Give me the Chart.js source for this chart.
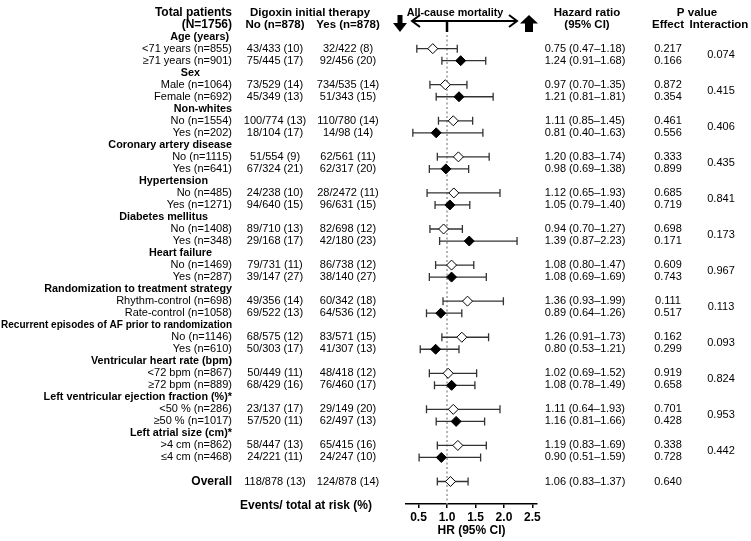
<!DOCTYPE html>
<html>
<head>
<meta charset="utf-8">
<script src="https://cdn.jsdelivr.net/npm/chart.js@4.4.1/dist/chart.umd.min.js"></script>
<style>
  body { margin: 0; background: #fff; }
  #wrap { width: 751px; height: 541px; }
</style>
</head>
<body>
<div id="wrap"><canvas id="forest" width="751" height="541"></canvas></div>
<script>
const groups = ['Age (years)', 'Sex', 'Non-whites', 'Coronary artery disease', 'Hypertension',
  'Diabetes mellitus', 'Heart failure', 'Randomization to treatment strategy',
  'Recurrent episodes of AF prior to randomization', 'Ventricular heart rate (bpm)',
  'Left ventricular ejection fraction (%)*', 'Left atrial size (cm)*'];
const subgroups = ['<71 years (n=855)', '≥71 years (n=901)', 'Male (n=1064)', 'Female (n=692)',
  'No (n=1554)', 'Yes (n=202)', 'No (n=1115)', 'Yes (n=641)', 'No (n=485)', 'Yes (n=1271)',
  'No (n=1408)', 'Yes (n=348)', 'No (n=1469)', 'Yes (n=287)', 'Rhythm-control (n=698)',
  'Rate-control (n=1058)', 'No (n=1146)', 'Yes (n=610)', '<72 bpm (n=867)', '≥72 bpm (n=889)',
  '<50 % (n=286)', '≥50 % (n=1017)', '>4 cm (n=862)', '≤4 cm (n=468)', 'Overall'];
const noEvents = ['43/433 (10)', '75/445 (17)', '73/529 (14)', '45/349 (13)', '100/774 (13)',
  '18/104 (17)', '51/554 (9)', '67/324 (21)', '24/238 (10)', '94/640 (15)', '89/710 (13)',
  '29/168 (17)', '79/731 (11)', '39/147 (27)', '49/356 (14)', '69/522 (13)', '68/575 (12)',
  '50/303 (17)', '50/449 (11)', '68/429 (16)', '23/137 (17)', '57/520 (11)', '58/447 (13)',
  '24/221 (11)', '118/878 (13)'];
const yesEvents = ['32/422 (8)', '92/456 (20)', '734/535 (14)', '51/343 (15)', '110/780 (14)',
  '14/98 (14)', '62/561 (11)', '62/317 (20)', '28/2472 (11)', '96/631 (15)', '82/698 (12)',
  '42/180 (23)', '86/738 (12)', '38/140 (27)', '60/342 (18)', '64/536 (12)', '83/571 (15)',
  '41/307 (13)', '48/418 (12)', '76/460 (17)', '29/149 (20)', '62/497 (13)', '65/415 (16)',
  '24/247 (10)', '124/878 (14)'];
const hr = [0.75, 1.24, 0.97, 1.21, 1.11, 0.81, 1.20, 0.98, 1.12, 1.05, 0.94, 1.39,
  1.08, 1.08, 1.36, 0.89, 1.26, 0.80, 1.02, 1.08, 1.11, 1.16, 1.19, 0.90, 1.06];
const hrLow = [0.47, 0.91, 0.70, 0.81, 0.85, 0.40, 0.83, 0.69, 0.65, 0.79, 0.70, 0.87,
  0.80, 0.69, 0.93, 0.64, 0.91, 0.53, 0.69, 0.78, 0.64, 0.81, 0.83, 0.51, 0.83];
const hrHigh = [1.18, 1.68, 1.35, 1.81, 1.45, 1.63, 1.74, 1.38, 1.93, 1.40, 1.27, 2.23,
  1.47, 1.69, 1.99, 1.26, 1.73, 1.21, 1.52, 1.49, 1.93, 1.66, 1.69, 1.59, 1.37];
const pEffect = ['0.217', '0.166', '0.872', '0.354', '0.461', '0.556', '0.333', '0.899',
  '0.685', '0.719', '0.698', '0.171', '0.609', '0.743', '0.111', '0.517', '0.162', '0.299',
  '0.919', '0.658', '0.701', '0.428', '0.338', '0.728', '0.640'];
const pInteraction = ['0.074', '0.415', '0.406', '0.435', '0.841', '0.173', '0.967', '0.113',
  '0.093', '0.824', '0.953', '0.442'];
const hrTicks = [0.5, 1.0, 1.5, 2.0, 2.5];

const FONT = '"Liberation Sans", Arial, sans-serif';
// right edge of each group title (they are not all flush with the subgroup labels)
const titleRight = [229, 200, 232, 232, 208, 208, 212, 232, 232, 232, 232, 232];

// row index on the y scale: group title, then its two subgroups; overall after a blank row
function rowOf(k) {
  if (k === subgroups.length - 1) return 37;
  return 3 * Math.floor(k / 2) + 1 + (k % 2);
}

const openPts = [], filledPts = [];
subgroups.forEach((s, k) => {
  const p = { x: hr[k], y: rowOf(k) };
  if (k % 2 === 1 && k < subgroups.length - 1) filledPts.push(p); else openPts.push(p);
});

const forestPlugin = {
  id: 'forest',
  beforeDatasetsDraw(chart) {
    const ctx = chart.ctx, xs = chart.scales.x, ys = chart.scales.y;
    const x1 = xs.getPixelForValue(1);
    ctx.save();
    // reference line at HR = 1
    ctx.strokeStyle = '#999';
    ctx.lineWidth = 1.5;
    ctx.setLineDash([2, 2.5]);
    ctx.beginPath();
    ctx.moveTo(x1, 35);
    ctx.lineTo(x1, chart.chartArea.bottom);
    ctx.stroke();
    ctx.setLineDash([]);
    // confidence intervals
    ctx.strokeStyle = '#333';
    ctx.lineWidth = 1.3;
    subgroups.forEach((s, k) => {
      const y = ys.getPixelForValue(rowOf(k));
      const a = xs.getPixelForValue(hrLow[k]), b = xs.getPixelForValue(hrHigh[k]);
      ctx.beginPath();
      ctx.moveTo(a, y); ctx.lineTo(b, y);
      ctx.moveTo(a, y - 4); ctx.lineTo(a, y + 4);
      ctx.moveTo(b, y - 4); ctx.lineTo(b, y + 4);
      ctx.stroke();
    });
    ctx.restore();
  },
  afterDraw(chart) {
    const ctx = chart.ctx, xs = chart.scales.x, ys = chart.scales.y;
    const x1 = xs.getPixelForValue(1);
    ctx.save();
    ctx.fillStyle = '#000';
    ctx.textBaseline = 'middle';
    const text = (t, x, y, align, font, maxW) => {
      ctx.font = font; ctx.textAlign = align;
      if (maxW) ctx.fillText(t, x, y, maxW); else ctx.fillText(t, x, y);
    };
    const bold12 = 'bold 12px ' + FONT, boldHd = 'bold 11.5px ' + FONT;
    const boldGrp = 'bold 10.8px ' + FONT, reg = '11px ' + FONT;
    const yh1 = ys.getPixelForValue(-2), yh2 = ys.getPixelForValue(-1);

    // column headers
    text('Total patients', 232, yh1, 'right', bold12);
    text('(N=1756)', 232, yh2, 'right', bold12);
    text('Digoxin initial therapy', 310, yh1, 'center', boldHd);
    text('No (n=878)', 275, yh2, 'center', boldHd);
    text('Yes (n=878)', 348, yh2, 'center', boldHd);
    text('All-cause mortality', 455, yh1, 'center', 'bold 10.8px ' + FONT);
    text('Hazard ratio', 587, yh1, 'center', boldHd);
    text('(95% CI)', 587, yh2, 'center', boldHd);
    text('P value', 697, yh1, 'center', boldHd);
    text('Effect', 668, yh2, 'center', boldHd);
    text('Interaction', 719, yh2, 'center', boldHd);

    // group titles and interaction p values
    groups.forEach((g, i) => {
      text(g, titleRight[i], ys.getPixelForValue(3 * i), 'right', boldGrp, 231);
      text(pInteraction[i], 721, ys.getPixelForValue(3 * i + 1.5), 'center', reg);
    });

    // subgroup rows
    subgroups.forEach((s, k) => {
      const y = ys.getPixelForValue(rowOf(k));
      const last = k === subgroups.length - 1;
      text(s, 232, y, 'right', last ? bold12 : reg);
      text(noEvents[k], 275, y, 'center', reg);
      text(yesEvents[k], 348, y, 'center', reg);
      text(hr[k].toFixed(2) + ' (' + hrLow[k].toFixed(2) + '–' + hrHigh[k].toFixed(2) + ')', 585, y, 'center', reg);
      text(pEffect[k], 668, y, 'center', reg);
    });
    text('Events/ total at risk (%)', 306, ys.getPixelForValue(39), 'center', bold12);

    // direction arrows above the plot
    ctx.strokeStyle = '#000';
    ctx.lineWidth = 2;
    ctx.beginPath();
    ctx.moveTo(412, 21); ctx.lineTo(517, 21);
    ctx.moveTo(420, 15); ctx.lineTo(412, 21); ctx.lineTo(420, 27);
    ctx.moveTo(509, 15); ctx.lineTo(517, 21); ctx.lineTo(509, 27);
    ctx.stroke();
    ctx.lineWidth = 2.5;
    ctx.beginPath();
    ctx.moveTo(x1, 21); ctx.lineTo(x1, 32);
    ctx.stroke();
    // block arrows
    ctx.beginPath();
    ctx.moveTo(397.5, 15); ctx.lineTo(402.5, 15); ctx.lineTo(402.5, 23); ctx.lineTo(407, 23);
    ctx.lineTo(400, 32); ctx.lineTo(393, 23); ctx.lineTo(397.5, 23); ctx.closePath();
    ctx.moveTo(529, 15); ctx.lineTo(538, 23.5); ctx.lineTo(533, 23.5); ctx.lineTo(533, 32);
    ctx.lineTo(525, 32); ctx.lineTo(525, 23.5); ctx.lineTo(520, 23.5); ctx.closePath();
    ctx.fill();
    ctx.restore();
  }
};

new Chart(document.getElementById('forest'), {
  type: 'scatter',
  data: {
    datasets: [
      { label: 'open', data: openPts, pointStyle: 'rectRot', pointRadius: 5,
        backgroundColor: '#fff', borderColor: '#000', borderWidth: 1 },
      { label: 'filled', data: filledPts, pointStyle: 'rectRot', pointRadius: 5,
        backgroundColor: '#000', borderColor: '#000', borderWidth: 1 }
    ]
  },
  options: {
    responsive: false,
    animation: false,
    layout: { padding: { left: 406, right: 214, top: 0, bottom: 0 } },
    plugins: { legend: { display: false }, tooltip: { enabled: false } },
    scales: {
      x: {
        type: 'linear', min: 0.28, max: 2.58,
        afterBuildTicks: s => { s.ticks = hrTicks.map(v => ({ value: v })); },
        afterFit: s => { s.height = 37; },
        ticks: { color: '#000', padding: 2, font: { family: FONT, size: 12, weight: 'bold' },
          callback: v => v.toFixed(1) },
        grid: { display: true, drawOnChartArea: false, drawTicks: true, tickLength: 4,
          color: '#000', lineWidth: 1.5 },
        border: { display: true, color: '#000', width: 1.5 },
        title: { display: true, text: 'HR (95% CI)', color: '#000',
          font: { family: FONT, size: 12, weight: 'bold' }, padding: { top: 2, bottom: 3 } }
      },
      y: { display: false, min: -2.547, max: 38.87, reverse: true }
    }
  },
  plugins: [forestPlugin]
});
</script>
</body>
</html>
